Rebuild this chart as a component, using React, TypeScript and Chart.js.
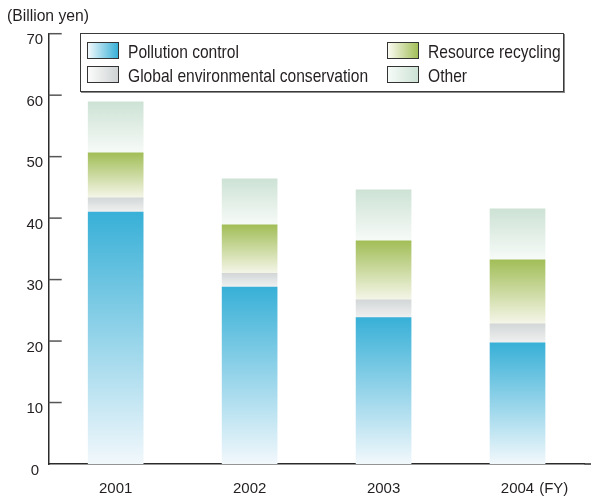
import React, { useEffect, useRef } from "react";
import { Chart, registerables } from "chart.js";

Chart.register(...registerables);

// Fiscal years shown on the x axis
const categories = ["2001", "2002", "2003", "2004"];
const fySuffix = "(FY)";

// Environmental conservation costs by category (billion yen)
const pollutionControl = [41.0, 28.8, 23.8, 19.7];
const globalConservation = [2.3, 2.2, 2.9, 3.1];
const resourceRecycling = [7.3, 7.9, 9.6, 10.4];
const otherCosts = [8.3, 7.5, 8.3, 8.3];

const seriesNames = [
  "Pollution control",
  "Global environmental conservation",
  "Resource recycling",
  "Other",
];

const yTicks = [0, 10, 20, 30, 40, 50, 60, 70];
const yUnit = "(Billion yen)";

// Gradient stops per series: [top (saturated), bottom (pale)]
const barStops: [string, string][] = [
  ["#38b0d7", "#f2f8fc"],
  ["#d3d7d8", "#f0f1f1"],
  ["#a2be58", "#f5f6e9"],
  ["#cde2d5", "#f7fbf8"],
];

// Legend swatch stops: [left (pale), right (saturated)]
const swatchStops: [string, string][] = [
  ["#f2f9fc", "#38b0d7"],
  ["#fbfbfb", "#cfd3d4"],
  ["#fbfbf2", "#a2be58"],
  ["#f6fbf8", "#cde2d5"],
];

const TEXT = "#231f20";
const FONT = "'Liberation Sans', Arial, sans-serif";

const allSeries = [pollutionControl, globalConservation, resourceRecycling, otherCosts];

const xLabelFont = { family: FONT, size: 15 };
const xLabelPadding = 16;

const axisExtras = {
  id: "axisExtras",
  afterDraw(chart: any) {
    const { ctx, chartArea, scales } = chart;
    const y = scales.y;
    const x = scales.x;
    ctx.save();
    // inward tick marks on the value axis
    ctx.strokeStyle = "#555";
    ctx.lineWidth = 1.5;
    y.ticks.forEach((t: any) => {
      if (t.value === 0) return;
      const py = y.getPixelForValue(t.value);
      ctx.beginPath();
      ctx.moveTo(chartArea.left, py);
      ctx.lineTo(chartArea.left + 13, py);
      ctx.stroke();
    });
    // baseline continues to the right edge
    const y0 = y.getPixelForValue(0);
    ctx.strokeStyle = "#2b2b2b";
    ctx.beginPath();
    ctx.moveTo(chartArea.right, y0);
    ctx.lineTo(chart.width, y0);
    ctx.stroke();
    // fiscal-year suffix after the last category label
    ctx.font = `${xLabelFont.size}px ${xLabelFont.family}`;
    ctx.fillStyle = TEXT;
    ctx.textBaseline = "middle";
    ctx.textAlign = "left";
    const last = categories.length - 1;
    const w = ctx.measureText(categories[last]).width;
    const cx = x.getPixelForValue(last);
    const lineH = xLabelFont.size * 1.2;
    ctx.fillText(fySuffix, cx + w / 2 + 5, x.top + xLabelPadding + lineH / 2);
    ctx.restore();
  },
};

function segmentFill(seriesIndex: number) {
  return (c: any) => {
    const chart = c.chart;
    const yScale = chart.scales?.y;
    if (!chart.chartArea || !yScale || c.dataIndex == null) return barStops[seriesIndex][0];
    const i = c.dataIndex;
    let base = 0;
    for (let s = 0; s < seriesIndex; s++) base += allSeries[s][i];
    const top = base + allSeries[seriesIndex][i];
    const yTop = yScale.getPixelForValue(top);
    const yBase = yScale.getPixelForValue(base);
    const g = chart.ctx.createLinearGradient(0, yTop, 0, yBase);
    g.addColorStop(0, barStops[seriesIndex][0]);
    g.addColorStop(1, barStops[seriesIndex][1]);
    return g;
  };
}

export default function App() {
  const canvasRef = useRef<HTMLCanvasElement | null>(null);

  useEffect(() => {
    if (!canvasRef.current) return;
    const chart = new Chart(canvasRef.current, {
      type: "bar",
      data: {
        labels: categories,
        datasets: allSeries.map((data, k) => ({
          label: seriesNames[k],
          data,
          backgroundColor: segmentFill(k),
          borderWidth: 0,
          barThickness: 55,
        })),
      },
      options: {
        responsive: false,
        animation: false,
        events: [],
        layout: { padding: { top: 33.7, right: 6.5, left: 0, bottom: 0 } },
        plugins: { legend: { display: false }, tooltip: { enabled: false }, title: { display: false } },
        scales: {
          x: {
            stacked: true,
            z: 1,
            grid: { display: false, drawTicks: false },
            border: { display: true, color: "#2b2b2b", width: 1.5 },
            ticks: { color: TEXT, font: xLabelFont, padding: xLabelPadding, maxRotation: 0 },
            afterFit: (s: any) => {
              s.height = 33;
            },
          },
          y: {
            stacked: true,
            min: 0,
            max: 70,
            z: 1,
            afterBuildTicks: (s: any) => {
              s.ticks = yTicks.map((v) => ({ value: v }));
            },
            grid: { display: false, drawTicks: false },
            border: { display: true, color: "#2b2b2b", width: 1.5 },
            ticks: {
              color: TEXT,
              font: { family: FONT, size: 15 },
              padding: 5.5,
              crossAlign: "center",
              labelOffset: 6.5,
            },
            afterFit: (s: any) => {
              s.width = 48.7;
            },
          },
        },
      },
      plugins: [axisExtras],
    });
    return () => chart.destroy();
  }, []);

  const legendRows = [
    { k: 0, left: 87, top: 42 },
    { k: 1, left: 87, top: 66 },
    { k: 2, left: 387, top: 42 },
    { k: 3, left: 387, top: 66 },
  ];

  return (
    <div style={{ position: "absolute", left: 0, top: 0, width: 591, height: 497, background: "#fff" }}>
      <canvas ref={canvasRef} width={591} height={497} style={{ position: "absolute", left: 0, top: 0 }} />
      <div
        style={{
          position: "absolute",
          left: 7,
          top: 6,
          fontFamily: FONT,
          fontSize: 15.7,
          lineHeight: "20px",
          color: TEXT,
          whiteSpace: "nowrap",
        }}
      >
        {yUnit}
      </div>
      <div
        style={{
          position: "absolute",
          left: 80,
          top: 33,
          width: 484,
          height: 59,
          boxSizing: "border-box",
          border: "1px solid #3a3a3a",
          boxShadow: "1px 1px 0 #8a8a8a",
          background: "#fff",
        }}
      />
      {legendRows.map(({ k, left, top }) => (
        <React.Fragment key={k}>
          <div
            style={{
              position: "absolute",
              left,
              top,
              width: 32,
              height: 17,
              boxSizing: "border-box",
              border: "1px solid #333",
              background: `linear-gradient(to right, ${swatchStops[k][0]}, ${swatchStops[k][1]})`,
            }}
          />
          <div
            style={{
              position: "absolute",
              left: left + 41,
              top: top - 1.5,
              fontFamily: FONT,
              fontSize: 15.6,
              lineHeight: "21px",
              color: TEXT,
              whiteSpace: "nowrap",
              transform: "scaleY(1.18)",
              transformOrigin: "left center",
            }}
          >
            {seriesNames[k]}
          </div>
        </React.Fragment>
      ))}
    </div>
  );
}
